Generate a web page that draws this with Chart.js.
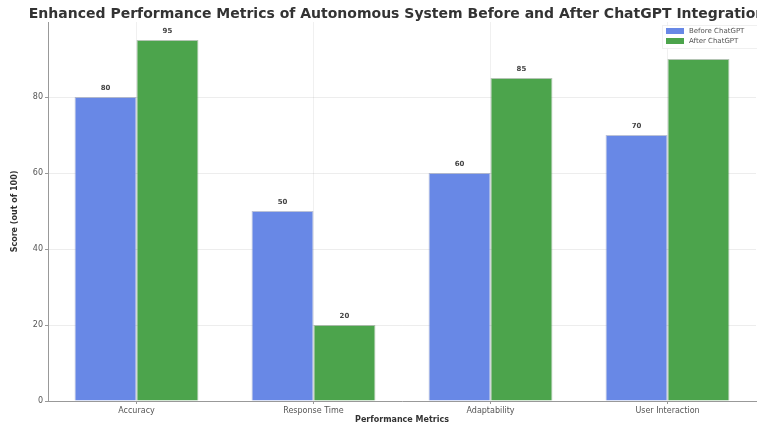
<!DOCTYPE html>
<html>
<head>
<meta charset="utf-8">
<script src="https://cdn.jsdelivr.net/npm/chart.js@4/dist/chart.umd.min.js"></script>
<style>
  html, body { margin: 0; padding: 0; background: #fff; overflow: hidden; }
  #wrap { width: 800px; height: 425px; }
</style>
</head>
<body>
<div id="wrap"><canvas id="chartCanvas" width="800" height="425"></canvas></div>
<script>
const categories = ["Accuracy", "Response Time", "Adaptability", "User Interaction"];
const beforeScores = [80, 50, 60, 70];
const afterScores = [95, 20, 85, 90];
const seriesNames = ["Before ChatGPT", "After ChatGPT"];
const yTicks = [0, 20, 40, 60, 80];
const chartTitle = "Enhanced Performance Metrics of Autonomous System Before and After ChatGPT Integration";

const FONT = "'DejaVu Sans', sans-serif";

// title, legend box in the top right of the plot, value labels over bars
let legendRect = null;
const overlay = {
    id: "overlay",
    afterDatasetsDraw(chart) {
        const ctx = chart.ctx;
        const area = chart.chartArea;
        const w = 96, h = 24;
        legendRect = { x: area.right - w + 2, y: area.top + 3, w: w, h: h };

        ctx.save();
        ctx.font = "bold 7px " + FONT;
        ctx.fillStyle = "#444";
        ctx.textAlign = "center";
        ctx.textBaseline = "bottom";
        chart.data.datasets.forEach((ds, di) => {
            chart.getDatasetMeta(di).data.forEach((bar, i) => {
                const tx = bar.x, ty = bar.y - 5;
                const r = legendRect;
                if (tx > r.x - 8 && tx < r.x + r.w + 8 && ty - 8 < r.y + r.h + 6) return;
                ctx.fillText(String(ds.data[i]), tx, ty);
            });
        });

        const r = legendRect;
        ctx.fillStyle = "rgba(255,255,255,0.85)";
        ctx.strokeStyle = "rgba(0,0,0,0.06)";
        ctx.lineWidth = 1;
        ctx.fillRect(r.x, r.y, r.w, r.h);
        ctx.strokeRect(r.x + 0.5, r.y + 0.5, r.w - 1, r.h - 1);
        ctx.font = "7px " + FONT;
        ctx.textAlign = "left";
        ctx.textBaseline = "middle";
        chart.data.datasets.forEach((ds, di) => {
            const yy = r.y + 6 + di * 10;
            ctx.fillStyle = ds.backgroundColor;
            ctx.fillRect(r.x + 4, yy - 3, 18, 6);
            ctx.fillStyle = "#555";
            ctx.fillText(ds.label, r.x + 27, yy);
        });

        ctx.font = "bold 14px " + FONT;
        ctx.fillStyle = "#333";
        ctx.textAlign = "center";
        ctx.fillText(chartTitle, chart.width / 2 - 3, 14);
        ctx.restore();
    }
};

const ctx = document.getElementById("chartCanvas").getContext("2d");
new Chart(ctx, {
    type: "bar",
    data: {
        labels: categories,
        datasets: [
            {
                label: seriesNames[0],
                data: beforeScores,
                backgroundColor: "rgb(104,136,230)",
                borderColor: "rgba(60,80,140,0.35)",
                borderWidth: 1,
                categoryPercentage: 0.7,
                barPercentage: 1.0
            },
            {
                label: seriesNames[1],
                data: afterScores,
                backgroundColor: "rgb(76,164,76)",
                borderColor: "rgba(40,90,40,0.35)",
                borderWidth: 1,
                categoryPercentage: 0.7,
                barPercentage: 1.0
            }
        ]
    },
    options: {
        responsive: false,
        animation: false,
        layout: { padding: { left: 10, right: 44, top: 22, bottom: 0 } },
        plugins: {
            legend: { display: false },
            tooltip: { enabled: false },
            title: { display: false }
        },
        scales: {
            x: {
                offset: true,
                afterFit: s => { s.height = 24; },
                grid: {
                    offset: false,
                    color: "rgba(0,0,0,0.06)",
                    tickColor: "#999",
                    tickLength: 3
                },
                border: { color: "#999", width: 1 },
                ticks: { color: "#555", font: { family: FONT, size: 8 }, padding: 2 },
                title: {
                    display: true,
                    text: "Performance Metrics",
                    color: "#333",
                    font: { family: FONT, size: 8, weight: "bold" },
                    padding: { top: 0, bottom: 0 }
                }
            },
            y: {
                min: 0,
                max: 99.75,
                afterBuildTicks: s => { s.ticks = yTicks.map(v => ({ value: v })); },
                afterFit: s => { s.width = 38; },
                grid: {
                    color: "rgba(0,0,0,0.07)",
                    tickColor: "#999",
                    tickLength: 3
                },
                border: { color: "#999", width: 1 },
                ticks: { color: "#555", font: { family: FONT, size: 8 }, padding: 2 },
                title: {
                    display: true,
                    text: "Score (out of 100)",
                    color: "#333",
                    font: { family: FONT, size: 8, weight: "bold" },
                    padding: { top: 0, bottom: 2 }
                }
            }
        }
    },
    plugins: [overlay]
});
</script>
</body>
</html>
